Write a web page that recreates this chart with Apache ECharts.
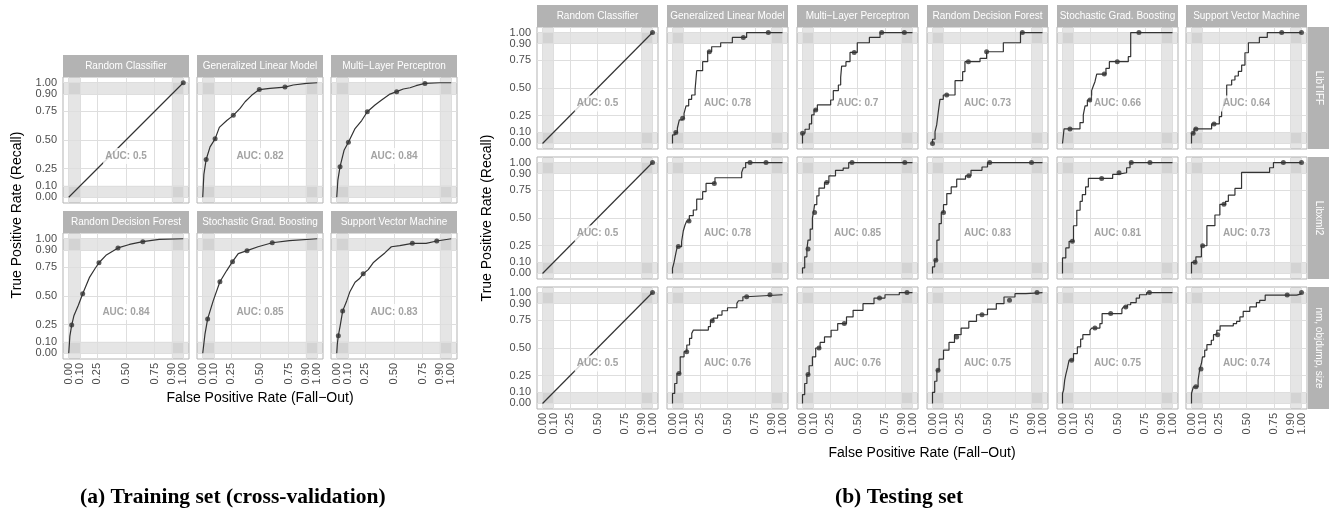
<!DOCTYPE html>
<html><head><meta charset="utf-8">
<script src="https://cdn.jsdelivr.net/npm/echarts@6/dist/echarts.min.js"></script>
<style>html,body{margin:0;padding:0;background:#fff}#c{width:1340px;height:515px}</style>
</head><body><div id="c"></div><script>
// ---------- labels ----------
const tickValues = [0, 0.1, 0.25, 0.5, 0.75, 0.9, 1];
const models = ['Random Classifier', 'Generalized Linear Model', 'Multi\u2212Layer Perceptron', 'Random Decision Forest', 'Stochastic Grad. Boosting', 'Support Vector Machine'];
const projects = ['LibTIFF', 'Libxml2', 'nm, objdump, size'];
const trainAUC = ['0.5', '0.82', '0.84', '0.84', '0.85', '0.83'];
const testAUC_tiff = ['0.5', '0.78', '0.7', '0.73', '0.66', '0.64'];
const testAUC_xml = ['0.5', '0.78', '0.85', '0.83', '0.81', '0.73'];
const testAUC_nm = ['0.5', '0.76', '0.76', '0.75', '0.75', '0.74'];

// ---------- training (cross-validation) curves: [FPR, TPR] ----------
const train_rc = [[0,0],[1,1]];
const train_rc_pts = [[1,1]];
const train_glm = [[0,0],[0.01,0.2],[0.03,0.33],[0.064,0.44],[0.108,0.51],[0.145,0.61],[0.21,0.67],[0.267,0.715],[0.326,0.776],[0.37,0.834],[0.427,0.89],[0.494,0.94],[0.587,0.95],[0.718,0.962],[0.79,0.98],[0.907,0.994],[1,1]];
const train_glm_pts = [[0.03,0.33],[0.108,0.51],[0.267,0.715],[0.494,0.94],[0.718,0.962]];
const train_mlp = [[0,0],[0.01,0.15],[0.029,0.267],[0.064,0.41],[0.102,0.48],[0.16,0.6],[0.218,0.67],[0.267,0.747],[0.334,0.805],[0.392,0.85],[0.459,0.898],[0.523,0.922],[0.581,0.945],[0.64,0.956],[0.692,0.974],[0.77,0.994],[0.9,1],[1,1]];
const train_mlp_pts = [[0.029,0.267],[0.102,0.48],[0.267,0.747],[0.523,0.922],[0.77,0.994]];
const train_rdf = [[0,0],[0.01,0.15],[0.026,0.246],[0.046,0.33],[0.084,0.42],[0.122,0.52],[0.18,0.66],[0.23,0.74],[0.264,0.79],[0.325,0.855],[0.383,0.89],[0.43,0.92],[0.53,0.95],[0.647,0.974],[0.79,0.994],[1,1]];
const train_rdf_pts = [[0.026,0.246],[0.122,0.52],[0.264,0.79],[0.43,0.92],[0.647,0.974]];
const train_sgb = [[0,0],[0.02,0.17],[0.043,0.3],[0.092,0.46],[0.15,0.624],[0.208,0.72],[0.26,0.8],[0.31,0.87],[0.387,0.896],[0.483,0.93],[0.607,0.965],[0.757,0.983],[1,1]];
const train_sgb_pts = [[0.043,0.3],[0.15,0.624],[0.26,0.8],[0.387,0.896],[0.607,0.965]];
const train_svm = [[0,0],[0.005,0.08],[0.014,0.153],[0.03,0.24],[0.052,0.37],[0.087,0.457],[0.116,0.54],[0.16,0.62],[0.197,0.65],[0.231,0.694],[0.275,0.73],[0.318,0.79],[0.361,0.827],[0.42,0.876],[0.477,0.93],[0.55,0.94],[0.66,0.96],[0.78,0.96],[0.873,0.98],[1,1]];
const train_svm_pts = [[0.014,0.153],[0.052,0.37],[0.231,0.694],[0.66,0.96],[0.873,0.98]];

// ---------- testing curves (step: each point ends a horizontal run) ----------
const test_rc = [[0,0],[1,1]];
const test_rc_pts = [[1,1]];
// LibTIFF
const test_glm_tiff = [[0,0],[0.023,0.077],[0.044,0.098],[0.062,0.137],[0.083,0.212],[0.105,0.227],[0.123,0.272],[0.147,0.338],[0.174,0.398],[0.205,0.437],[0.22,0.482],[0.274,0.656],[0.32,0.737],[0.356,0.827],[0.438,0.872],[0.544,0.908],[0.674,0.956],[1,1]];
const test_glm_tiff_pts = [[0.03,0.098],[0.092,0.227],[0.335,0.827],[0.644,0.956],[0.871,1]];
const test_mlp_tiff = [[0,0],[0.023,0.092],[0.062,0.128],[0.083,0.176],[0.105,0.257],[0.135,0.302],[0.256,0.347],[0.28,0.392],[0.326,0.476],[0.347,0.527],[0.356,0.596],[0.395,0.698],[0.432,0.737],[0.498,0.821],[0.608,0.908],[0.705,0.956],[1,1]];
const test_mlp_tiff_pts = [[0,0.092],[0.12,0.302],[0.47,0.821],[0.72,1],[0.926,1]];
const test_rdf_tiff = [[0,0],[0.023,0.038],[0.038,0.107],[0.053,0.167],[0.068,0.287],[0.098,0.398],[0.205,0.437],[0.274,0.566],[0.295,0.647],[0.432,0.737],[0.492,0.767],[0.644,0.827],[0.8,0.908],[1,1]];
const test_rdf_tiff_pts = [[0,0],[0.129,0.437],[0.326,0.737],[0.492,0.827],[0.817,1]];
const test_sgb_tiff = [[0,0],[0.014,0],[0.159,0.131],[0.189,0.188],[0.205,0.257],[0.226,0.338],[0.265,0.392],[0.28,0.476],[0.295,0.518],[0.311,0.557],[0.395,0.626],[0.426,0.677],[0.598,0.737],[0.62,0.782],[1,1]];
const test_sgb_tiff_pts = [[0.068,0.131],[0.25,0.392],[0.38,0.626],[0.498,0.737],[0.695,1]];
const test_svm_tiff = [[0,0],[0.023,0.092],[0.183,0.131],[0.253,0.176],[0.274,0.242],[0.289,0.287],[0.3,0.332],[0.32,0.4],[0.365,0.527],[0.395,0.572],[0.426,0.608],[0.456,0.65],[0.486,0.707],[0.517,0.818],[0.617,0.908],[0.689,0.956],[1,1]];
const test_svm_tiff_pts = [[0.015,0.092],[0.04,0.131],[0.205,0.176],[0.82,1],[1,1]];
// Libxml2
const test_glm_xml = [[0,0],[0.014,0.047],[0.032,0.1],[0.044,0.19],[0.083,0.242],[0.098,0.288],[0.114,0.383],[0.129,0.437],[0.153,0.473],[0.189,0.521],[0.22,0.572],[0.274,0.671],[0.305,0.737],[0.386,0.812],[0.629,0.863],[0.644,0.911],[0.665,0.953],[1,1]];
const test_glm_xml_pts = [[0.053,0.242],[0.15,0.473],[0.38,0.812],[0.705,1],[0.85,1]];
const test_mlp_xml = [[0,0],[0.02,0.05],[0.04,0.15],[0.05,0.22],[0.07,0.3],[0.09,0.4],[0.1,0.5],[0.11,0.55],[0.13,0.62],[0.15,0.7],[0.2,0.77],[0.24,0.82],[0.3,0.88],[0.37,0.93],[0.42,0.95],[1,1]];
const test_mlp_xml_pts = [[0.05,0.22],[0.11,0.55],[0.22,0.82],[0.45,1],[0.93,1]];
const test_rdf_xml = [[0,0],[0.02,0.06],[0.04,0.12],[0.06,0.3],[0.08,0.45],[0.1,0.55],[0.13,0.62],[0.17,0.72],[0.22,0.78],[0.3,0.85],[0.35,0.88],[0.45,0.93],[0.5,0.96],[1,1]];
const test_rdf_xml_pts = [[0.03,0.12],[0.1,0.55],[0.33,0.88],[0.52,1],[0.9,1]];
const test_sgb_xml = [[0,0],[0.03,0.14],[0.06,0.23],[0.1,0.29],[0.13,0.43],[0.16,0.57],[0.18,0.65],[0.21,0.71],[0.235,0.78],[0.456,0.857],[0.5,0.893],[0.583,0.908],[0.614,0.953],[1,1]];
const test_sgb_xml_pts = [[0.09,0.29],[0.356,0.857],[0.514,0.908],[0.625,1],[0.795,1]];
const test_svm_xml = [[0,0],[0.04,0.1],[0.09,0.15],[0.14,0.25],[0.213,0.431],[0.258,0.527],[0.31,0.623],[0.335,0.65],[0.395,0.707],[0.455,0.767],[0.71,0.911],[0.745,0.953],[1,1]];
const test_svm_xml_pts = [[0.032,0.1],[0.101,0.25],[0.295,0.623],[0.835,1],[1,1]];
// nm, objdump, size
const test_glm_nm = [[0,0],[0.02,0.09],[0.04,0.18],[0.07,0.27],[0.105,0.42],[0.13,0.467],[0.155,0.527],[0.175,0.587],[0.19,0.632],[0.326,0.662],[0.345,0.692],[0.37,0.746],[0.41,0.77],[0.45,0.797],[0.5,0.836],[0.585,0.863],[0.6,0.902],[0.64,0.926],[0.67,0.962],[1,0.98]];
const test_glm_nm_pts = [[0.059,0.27],[0.129,0.467],[0.362,0.746],[0.674,0.962],[0.886,0.98]];
const test_mlp_nm = [[0,0],[0.02,0.08],[0.04,0.18],[0.06,0.26],[0.09,0.34],[0.12,0.42],[0.16,0.5],[0.2,0.55],[0.26,0.6],[0.32,0.66],[0.4,0.72],[0.46,0.78],[0.55,0.84],[0.65,0.9],[0.75,0.95],[0.88,0.98],[1,1]];
const test_mlp_nm_pts = [[0.05,0.26],[0.15,0.5],[0.38,0.72],[0.7,0.95],[0.95,1]];
const test_rdf_nm = [[0,0],[0.02,0.1],[0.04,0.2],[0.06,0.3],[0.1,0.4],[0.15,0.48],[0.2,0.55],[0.26,0.62],[0.33,0.68],[0.4,0.74],[0.5,0.8],[0.58,0.85],[0.65,0.9],[0.75,0.96],[0.85,0.99],[1,1]];
const test_rdf_nm_pts = [[0.05,0.3],[0.22,0.6],[0.45,0.8],[0.7,0.93],[0.95,1]];
const test_sgb_nm = [[0,0],[0.01,0.09],[0.02,0.12],[0.03,0.21],[0.045,0.26],[0.06,0.32],[0.1,0.39],[0.135,0.45],[0.165,0.51],[0.185,0.58],[0.25,0.62],[0.265,0.66],[0.34,0.68],[0.36,0.72],[0.54,0.81],[0.555,0.85],[0.59,0.87],[0.62,0.89],[0.67,0.91],[0.7,0.95],[0.765,0.98],[1,1]];
const test_sgb_nm_pts = [[0.083,0.39],[0.295,0.68],[0.438,0.81],[0.575,0.87],[0.79,1]];
const test_svm_nm = [[0,0],[0.017,0.09],[0.06,0.15],[0.075,0.21],[0.09,0.31],[0.1,0.36],[0.12,0.42],[0.14,0.48],[0.18,0.53],[0.2,0.57],[0.23,0.62],[0.26,0.66],[0.38,0.7],[0.41,0.72],[0.44,0.74],[0.47,0.78],[0.53,0.83],[0.59,0.87],[0.62,0.91],[0.67,0.93],[0.956,0.977],[0.99,0.986],[1,1]];
const test_svm_nm_pts = [[0.04,0.15],[0.086,0.31],[0.238,0.62],[0.87,0.977],[1,1]];

// ---------- layout / style ----------
const FONT = 'Liberation Sans, Arial, Helvetica, sans-serif';
const STRIP = '#b3b3b3';
const BAND = 'rgba(170,170,170,0.3)';
const GRIDC = '#dedede';

const grids = [], xAxes = [], yAxes = [], series = [], graphics = [];
function fmt(v) { return tickValues.some(t => Math.abs(t - v) < 1e-6) ? v.toFixed(2) : ''; }

function addPanel(left, top, w, h, curve, pts, auc, step, showX, showY) {
  const i = grids.length;
  grids.push({ left, top, width: w, height: h, show: true, borderColor: '#b3b3b3', borderWidth: 1, backgroundColor: '#fff' });
  const base = { type: 'value', gridIndex: i, min: -0.05, max: 1.05, interval: 0.05,
    axisLine: { show: false }, axisTick: { show: false }, splitLine: { show: false } };
  xAxes.push(Object.assign({}, base, { axisLabel: { show: showX, rotate: 90, margin: 4, fontSize: 11, color: '#4d4d4d', fontFamily: FONT, formatter: fmt } }));
  yAxes.push(Object.assign({}, base, { axisLabel: { show: showY, margin: 6, fontSize: 11, color: '#4d4d4d', fontFamily: FONT, formatter: fmt, lineHeight: 11 } }));
  series.push({ type: 'line', xAxisIndex: i, yAxisIndex: i, data: [], silent: true, z: 1,
    markArea: { silent: true, z: 1, itemStyle: { color: BAND }, data: [
      [{ xAxis: 0 }, { xAxis: 0.1 }], [{ xAxis: 0.9 }, { xAxis: 1 }],
      [{ yAxis: 0 }, { yAxis: 0.1 }], [{ yAxis: 0.9 }, { yAxis: 1 }]] },
    markLine: { silent: true, z: 2, symbol: ['none', 'none'], label: { show: false },
      lineStyle: { color: GRIDC, width: 1, type: 'solid' },
      data: tickValues.map(v => ({ xAxis: v })).concat(tickValues.map(v => ({ yAxis: v }))) } });
  series.push({ type: 'line', xAxisIndex: i, yAxisIndex: i, data: curve, step: step ? 'start' : false,
    showSymbol: false, silent: true, z: 3, lineStyle: { color: '#333', width: 1.2 } });
  series.push({ type: 'scatter', xAxisIndex: i, yAxisIndex: i, data: pts, symbolSize: 5, silent: true, z: 4, itemStyle: { color: '#333' } });
  series.push({ type: 'scatter', xAxisIndex: i, yAxisIndex: i, data: [[0.5, 0.36]], symbolSize: 1, silent: true, z: 5,
    itemStyle: { color: 'rgba(0,0,0,0)' },
    label: { show: true, position: 'inside', formatter: 'AUC: ' + auc, fontFamily: FONT, fontWeight: 'bold', fontSize: 10,
      color: '#8c8c8c', backgroundColor: '#fff', padding: [3, 2] } });
}
function stripTop(x, y, w, h, text) {
  graphics.push({ type: 'rect', shape: { x, y, width: w, height: h }, style: { fill: STRIP }, silent: true });
  graphics.push({ type: 'text', x: x + w / 2, y: y + h / 2, style: { text, fill: '#fff', font: '10px ' + FONT, textAlign: 'center', textVerticalAlign: 'middle' }, silent: true });
}
function stripSide(x, y, w, h, text) {
  graphics.push({ type: 'rect', shape: { x, y, width: w, height: h }, style: { fill: STRIP }, silent: true });
  graphics.push({ type: 'text', x: x + w / 2, y: y + h / 2, rotation: -Math.PI / 2, style: { text, fill: '#fff', font: '10px ' + FONT, textAlign: 'center', textVerticalAlign: 'middle' }, silent: true });
}
function title(x, y, text, rot, font) {
  graphics.push({ type: 'text', x, y, rotation: rot || 0, style: { text, fill: '#000', font: font || ('14px ' + FONT), textAlign: 'center', textVerticalAlign: 'middle' }, silent: true });
}

// left: training
const trainCurves = [train_rc, train_glm, train_mlp, train_rdf, train_sgb, train_svm];
const trainPts = [train_rc_pts, train_glm_pts, train_mlp_pts, train_rdf_pts, train_sgb_pts, train_svm_pts];
const Lcols = [63, 197, 331], Lrows = [77, 233], LW = 126, LH = 126;
for (let k = 0; k < 6; k++) {
  const r = Math.floor(k / 3), c = k % 3;
  addPanel(Lcols[c], Lrows[r], LW, LH, trainCurves[k], trainPts[k], trainAUC[k], false, r === 1, c === 0);
  stripTop(Lcols[c], Lrows[r] - 22, LW, 22, models[k]);
}
// right: testing
const testRows = [
  [test_rc, test_glm_tiff, test_mlp_tiff, test_rdf_tiff, test_sgb_tiff, test_svm_tiff],
  [test_rc, test_glm_xml, test_mlp_xml, test_rdf_xml, test_sgb_xml, test_svm_xml],
  [test_rc, test_glm_nm, test_mlp_nm, test_rdf_nm, test_sgb_nm, test_svm_nm]];
const testRowPts = [
  [test_rc_pts, test_glm_tiff_pts, test_mlp_tiff_pts, test_rdf_tiff_pts, test_sgb_tiff_pts, test_svm_tiff_pts],
  [test_rc_pts, test_glm_xml_pts, test_mlp_xml_pts, test_rdf_xml_pts, test_sgb_xml_pts, test_svm_xml_pts],
  [test_rc_pts, test_glm_nm_pts, test_mlp_nm_pts, test_rdf_nm_pts, test_sgb_nm_pts, test_svm_nm_pts]];
const testAUCs = [testAUC_tiff, testAUC_xml, testAUC_nm];
const Rcols = [537, 667, 797, 927, 1057, 1186], Rrows = [27, 157, 287], RW = 121, RH = 122;
for (let r = 0; r < 3; r++) {
  for (let c = 0; c < 6; c++) {
    addPanel(Rcols[c], Rrows[r], RW, RH, testRows[r][c], testRowPts[r][c], testAUCs[r][c], c > 0, r === 2, c === 0);
    if (r === 0) stripTop(Rcols[c], 5, RW, 22, models[c]);
  }
  stripSide(1308, Rrows[r], 21, RH, projects[r]);
}
title(17, 215, 'True Positive Rate (Recall)', Math.PI / 2);
title(260, 398, 'False Positive Rate (Fall\u2212Out)');
title(487, 218, 'True Positive Rate (Recall)', Math.PI / 2);
title(922, 453, 'False Positive Rate (Fall\u2212Out)');
graphics.push({ type: 'text', x: 80, y: 497, style: { text: '(a) Training set (cross-validation)', fill: '#000', font: 'bold 21.5px Liberation Serif, serif', textAlign: 'left', textVerticalAlign: 'middle' }, silent: true });
graphics.push({ type: 'text', x: 835, y: 497, style: { text: '(b) Testing set', fill: '#000', font: 'bold 21.5px Liberation Serif, serif', textAlign: 'left', textVerticalAlign: 'middle' }, silent: true });

const chart = echarts.init(document.getElementById('c'), null, { renderer: 'canvas' });
chart.setOption({ animation: false, backgroundColor: '#fff', grid: grids, xAxis: xAxes, yAxis: yAxes, series, graphic: graphics });
</script></body></html>
